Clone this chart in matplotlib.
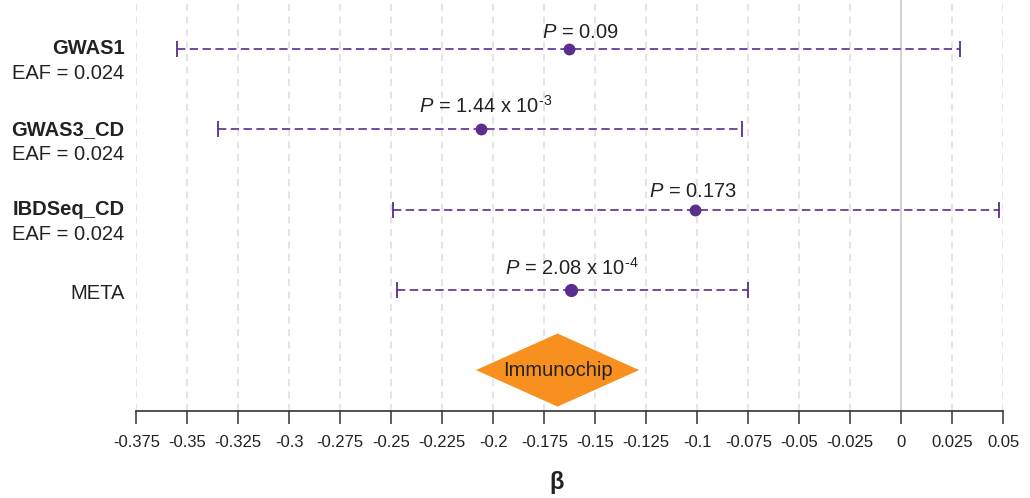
import matplotlib
matplotlib.use("Agg")
import matplotlib.pyplot as plt
from matplotlib.patches import Polygon
from matplotlib.transforms import blended_transform_factory

plt.rcParams['font.family'] = ['Liberation Sans', 'DejaVu Sans']
plt.rcParams['mathtext.fontset'] = 'custom'
plt.rcParams['mathtext.rm'] = 'Liberation Sans'
plt.rcParams['mathtext.it'] = 'Liberation Sans:italic'
plt.rcParams['mathtext.bf'] = 'Liberation Sans:bold'
plt.rcParams['lines.scale_dashes'] = False

# ---- data ----
studies = ["GWAS1", "GWAS3_CD", "IBDSeq_CD", "META"]
eaf = ["0.024", "0.024", "0.024", None]
beta = [-0.163, -0.206, -0.101, -0.162]
ci_low = [-0.355, -0.335, -0.249, -0.247]
ci_high = [0.029, -0.078, 0.048, -0.075]
p_labels = [r"$P$ = 0.09", r"$P$ = 1.44 x 10$^{\text{-3}}$",
            r"$P$ = 0.173", r"$P$ = 2.08 x 10$^{\text{-4}}$"]
immuno_label = "Immunochip"
immuno_beta = -0.1685
immuno_halfwidth = 0.040
xticks = [-0.375, -0.35, -0.325, -0.3, -0.275, -0.25, -0.225, -0.2, -0.175,
          -0.15, -0.125, -0.1, -0.075, -0.05, -0.025, 0, 0.025, 0.05]
xtick_labels = ["-0.375", "-0.35", "-0.325", "-0.3", "-0.275", "-0.25", "-0.225",
                "-0.2", "-0.175", "-0.15", "-0.125", "-0.1", "-0.075", "-0.05",
                "-0.025", "0", "0.025", "0.05"]

purple = "#5b2d8e"
orange = "#f7901e"
txt = "#222222"

fig = plt.figure(figsize=(10.30, 4.98), dpi=100)
ax = fig.add_axes([136.3 / 1030, 87 / 498, 867 / 1030, 411 / 498])

ax.set_xlim(-0.375, 0.05)
ax.set_ylim(0.49, 5.61)

# grid
for t in xticks:
    if t == 0:
        ax.axvline(t, color="#cfcfcf", lw=1.3, zorder=0)
    else:
        ax.axvline(t, color="#dcdcdc", lw=1.1, ls=(0, (5, 4)), zorder=0)

ypos = [5, 4, 3, 2]
label_dx = [0.0055, 0.002, -0.001, 0.0005]
label_dy = [0.137, 0.20, 0.16, 0.186]
for i, s in enumerate(studies):
    y = ypos[i]
    ax.plot([ci_low[i], ci_high[i]], [y, y], color=purple, lw=1.2,
            ls=(0, (6, 3.2)), zorder=2)
    ax.plot([ci_low[i], ci_high[i]], [y, y], ls='none', marker='|',
            markersize=12, markeredgewidth=1.3, color=purple, zorder=3)
    ms = 8.5 if s == "META" else 7.5
    ax.plot(beta[i], y, 'o', color=purple, markersize=ms, zorder=4)
    ax.text(beta[i] + label_dx[i], y + label_dy[i], p_labels[i], ha='center',
            va='baseline', fontsize=14.5, color=txt)

# row labels
tr = blended_transform_factory(ax.transAxes, ax.transData)
for i, s in enumerate(studies):
    y = ypos[i]
    if eaf[i] is not None:
        ax.text(-0.0138, y, s, transform=tr, ha='right', va='center',
                fontsize=14.5, fontweight='bold', color=txt, clip_on=False)
        ax.text(-0.0138, y - 0.31, "EAF = " + eaf[i], transform=tr, ha='right',
                va='center', fontsize=14.5, color=txt, clip_on=False)
    else:
        ax.text(-0.0138, y - 0.05, s, transform=tr, ha='right', va='center',
                fontsize=14.5, color=txt, clip_on=False)

# diamond
yd = 1.0
dh = 0.455
diamond = Polygon([[immuno_beta - immuno_halfwidth, yd], [immuno_beta, yd + dh],
                   [immuno_beta + immuno_halfwidth, yd], [immuno_beta, yd - dh]],
                  closed=True, facecolor=orange, edgecolor='none', zorder=3)
ax.add_patch(diamond)
ax.text(immuno_beta, yd, immuno_label, ha='center', va='center', fontsize=14.5,
        color=txt, zorder=5)

# axes styling
for sp in ["top", "right", "left"]:
    ax.spines[sp].set_visible(False)
ax.spines["bottom"].set_color("#333333")
ax.spines["bottom"].set_linewidth(1.2)
ax.set_yticks([])
ax.set_xticks(xticks)
ax.set_xticklabels(xtick_labels, fontsize=12, color=txt)
ax.tick_params(axis='x', direction='out', length=9, width=1.1, color="#333333", pad=8)

fig.text(557 / 1030, 1 - 482 / 498, r"$\mathbf{\beta}$", ha='center', va='center',
         fontsize=17, color=txt)

fig.savefig("out.png", dpi=100)
